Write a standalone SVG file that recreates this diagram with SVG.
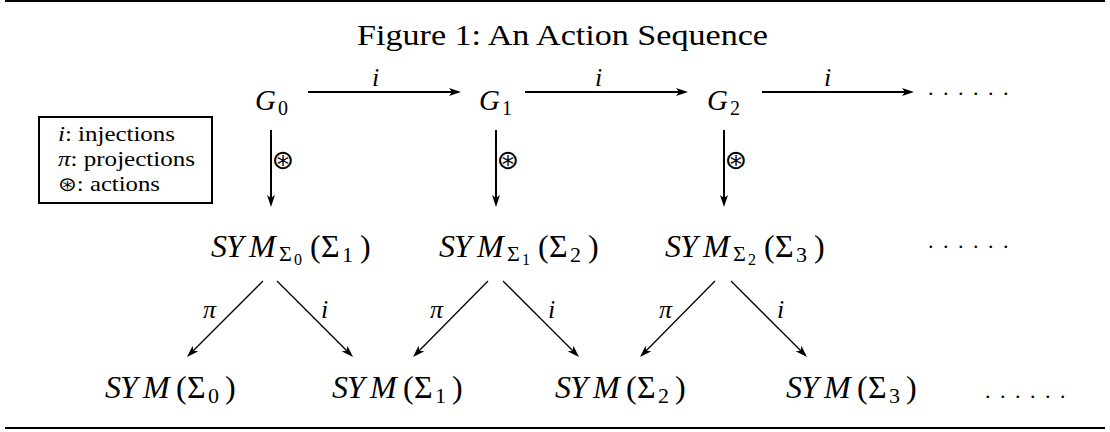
<svg xmlns="http://www.w3.org/2000/svg" width="1110" height="432" viewBox="0 0 1110 432">
<style>
  text { font-family: "Liberation Serif", "Times New Roman", serif; fill: #000; }
  .it { font-style: italic; }
  .main { font-size: 32px; }
  .sub { font-size: 22px; }
  .ssub { font-size: 16px; }
  .lbl { font-size: 26px; font-style: italic; }
  .act { font-family: "DejaVu Sans", sans-serif; }
  .thick { stroke: #000; stroke-width: 2; fill: none; }
  .thin { stroke: #000; stroke-width: 1.3; fill: none; }
</style>
<defs>
  <marker id="ah" viewBox="0 0 12 8" refX="6" refY="4" markerWidth="12" markerHeight="8" markerUnits="userSpaceOnUse" orient="auto">
    <path d="M0,0 L12,4 L0,8 L3,4 z" fill="#000"/>
  </marker>
</defs>

<g id="rules">
  <line x1="5" y1="1" x2="1105" y2="1" class="thick"/>
  <line x1="5" y1="428" x2="1105" y2="428" class="thick"/>
</g>

<g id="title">
  <text x="357" y="45" font-size="30" textLength="411" lengthAdjust="spacingAndGlyphs">Figure 1: An Action Sequence</text>
</g>

<g id="legend">
  <rect x="39" y="117" width="173" height="86" fill="none" stroke="#000" stroke-width="2"/>
  <text x="58" y="141" font-size="22" textLength="117" lengthAdjust="spacingAndGlyphs"><tspan class="it">i</tspan>: injections</text>
  <text x="58" y="166" font-size="22" textLength="137" lengthAdjust="spacingAndGlyphs"><tspan class="it">π</tspan>: projections</text>
  <text x="58" y="191" font-size="22" textLength="102" lengthAdjust="spacingAndGlyphs"><tspan class="act" font-size="20">⊛</tspan>: actions</text>
</g>

<g id="G0"><text x="255" y="110" class="it" font-size="29">G</text><text x="278" y="115" font-size="20">0</text></g>
<g id="G1"><text x="479" y="110" class="it" font-size="29">G</text><text x="502" y="115" font-size="20">1</text></g>
<g id="G2"><text x="707" y="110" class="it" font-size="29">G</text><text x="730" y="115" font-size="20">2</text></g>
<g id="dots-top"><text x="928 943 958 973 988 1003" y="95" font-size="22">......</text></g>

<g id="SYMS0S1" transform="translate(211,257)">
  <text x="0" y="0" class="main it">S</text><text x="15" y="0" class="main it">Y</text><text x="38" y="0" class="main it">M</text>
  <text x="68" y="4" class="sub">Σ</text><text x="83" y="8" class="ssub">0</text>
  <text x="99" y="0" class="main">(</text><text x="110" y="0" class="main">Σ</text><text x="131" y="5" class="sub">1</text><text x="149" y="0" class="main">)</text>
</g>
<g id="SYMS1S2" transform="translate(439,257)">
  <text x="0" y="0" class="main it">S</text><text x="15" y="0" class="main it">Y</text><text x="38" y="0" class="main it">M</text>
  <text x="68" y="4" class="sub">Σ</text><text x="83" y="8" class="ssub">1</text>
  <text x="99" y="0" class="main">(</text><text x="110" y="0" class="main">Σ</text><text x="131" y="5" class="sub">2</text><text x="149" y="0" class="main">)</text>
</g>
<g id="SYMS2S3" transform="translate(665,257)">
  <text x="0" y="0" class="main it">S</text><text x="15" y="0" class="main it">Y</text><text x="38" y="0" class="main it">M</text>
  <text x="68" y="4" class="sub">Σ</text><text x="83" y="8" class="ssub">2</text>
  <text x="99" y="0" class="main">(</text><text x="110" y="0" class="main">Σ</text><text x="131" y="5" class="sub">3</text><text x="149" y="0" class="main">)</text>
</g>
<g id="dots-mid"><text x="928 943 958 973 988 1003" y="248" font-size="22">......</text></g>

<g id="SYM0" transform="translate(105,398)">
  <text x="0" y="0" class="main it">S</text><text x="15" y="0" class="main it">Y</text><text x="38" y="0" class="main it">M</text>
  <text x="71" y="0" class="main">(</text><text x="82" y="0" class="main">Σ</text><text x="103" y="5" class="sub">0</text><text x="120" y="0" class="main">)</text>
</g>
<g id="SYM1" transform="translate(332,398)">
  <text x="0" y="0" class="main it">S</text><text x="15" y="0" class="main it">Y</text><text x="38" y="0" class="main it">M</text>
  <text x="71" y="0" class="main">(</text><text x="82" y="0" class="main">Σ</text><text x="103" y="5" class="sub">1</text><text x="120" y="0" class="main">)</text>
</g>
<g id="SYM2" transform="translate(555,398)">
  <text x="0" y="0" class="main it">S</text><text x="15" y="0" class="main it">Y</text><text x="38" y="0" class="main it">M</text>
  <text x="71" y="0" class="main">(</text><text x="82" y="0" class="main">Σ</text><text x="103" y="5" class="sub">2</text><text x="120" y="0" class="main">)</text>
</g>
<g id="SYM3" transform="translate(786,398)">
  <text x="0" y="0" class="main it">S</text><text x="15" y="0" class="main it">Y</text><text x="38" y="0" class="main it">M</text>
  <text x="71" y="0" class="main">(</text><text x="82" y="0" class="main">Σ</text><text x="103" y="5" class="sub">3</text><text x="120" y="0" class="main">)</text>
</g>
<g id="dots-bot"><text x="985 1000 1015 1030 1045 1060" y="398" font-size="22">......</text></g>

<g id="connectors">
  <line x1="308" y1="92" x2="455" y2="92" class="thick" marker-end="url(#ah)"/>
  <line x1="525" y1="92" x2="682" y2="92" class="thick" marker-end="url(#ah)"/>
  <line x1="762" y1="92" x2="908" y2="92" class="thick" marker-end="url(#ah)"/>
  <text x="372" y="86" class="lbl" font-size="25">i</text>
  <text x="595" y="86" class="lbl" font-size="25">i</text>
  <text x="824" y="86" class="lbl" font-size="25">i</text>

  <line x1="271" y1="130" x2="271" y2="201" class="thick" marker-end="url(#ah)"/>
  <line x1="496" y1="130" x2="496" y2="201" class="thick" marker-end="url(#ah)"/>
  <line x1="724" y1="130" x2="724" y2="201" class="thick" marker-end="url(#ah)"/>
  <text x="283" y="169" class="act" font-size="27" text-anchor="middle">⊛</text>
  <text x="508" y="169" class="act" font-size="27" text-anchor="middle">⊛</text>
  <text x="736" y="169" class="act" font-size="27" text-anchor="middle">⊛</text>

  <line x1="263" y1="281" x2="191.2" y2="352.8" class="thin" marker-end="url(#ah)"/>
  <line x1="277" y1="281" x2="348.8" y2="352.8" class="thin" marker-end="url(#ah)"/>
  <line x1="488" y1="281" x2="417.2" y2="352.8" class="thin" marker-end="url(#ah)"/>
  <line x1="503" y1="281" x2="574.8" y2="352.8" class="thin" marker-end="url(#ah)"/>
  <line x1="715" y1="281" x2="644.2" y2="352.8" class="thin" marker-end="url(#ah)"/>
  <line x1="731" y1="281" x2="802.8" y2="352.8" class="thin" marker-end="url(#ah)"/>
  <text x="203" y="318" class="lbl">π</text>
  <text x="321" y="318" class="lbl">i</text>
  <text x="430" y="318" class="lbl">π</text>
  <text x="548" y="318" class="lbl">i</text>
  <text x="659" y="318" class="lbl">π</text>
  <text x="777" y="318" class="lbl">i</text>
</g>
</svg>
